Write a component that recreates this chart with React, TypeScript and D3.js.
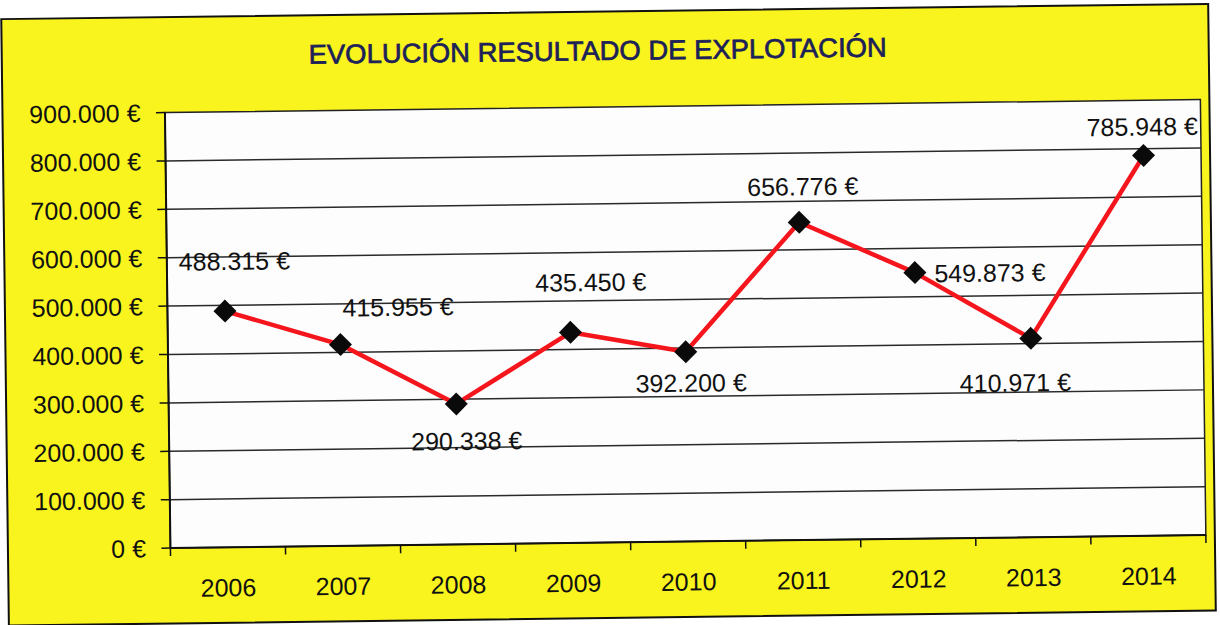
import React from "react";
import * as d3 from "d3";

// values
const years = ["2006", "2007", "2008", "2009", "2010", "2011", "2012", "2013", "2014"];
const resultado = [488315, 415955, 290338, 435450, 392200, 656776, 549873, 410971, 785948];
const yTicks = [0, 100000, 200000, 300000, 400000, 500000, 600000, 700000, 800000, 900000];

// where each data label sits relative to its marker (manual placement in the original)
const labelOffsets: [number, number][] = [
  [10, -50], [58, -37], [10, 37], [21, -50], [5, 31],
  [4, -36], [75, 1], [-16, 44], [-1, -29],
];

const W = 1220, H = 625;
const margin = { left: 167.5, right: 1203, top: 107, bottom: 542.5 };
const font = "'Liberation Sans', Arial, sans-serif";

const esLocale = d3.formatLocale({ decimal: ",", thousands: ".", grouping: [3], currency: ["", " €"] });
const fmt = esLocale.format(",.0f");
const euro = (v: number) => `${fmt(v)} €`;

export default function App() {
  const x = d3.scaleBand().domain(years).range([margin.left, margin.right]).padding(0);
  const y = d3.scaleLinear().domain([0, 900000]).range([margin.bottom, margin.top]);
  const cx = (i: number) => (x(years[i]) as number) + x.bandwidth() / 2;

  const line = d3.line<number>()
    .x((d, i) => cx(i))
    .y(d => y(d));

  const boundaries = years.map(yr => x(yr) as number).concat([margin.right]);

  return (
    <div style={{ position: "absolute", left: 0, top: 0 }}>
      <svg width={W} height={H} style={{ display: "block", background: "#ffffff" }}>
        <g transform="rotate(-0.72, 610, 312)">
          {/* outer chart area */}
          <rect x={5} y={11.5} width={1207} height={606.5} fill="#faf41e" stroke="#111" strokeWidth={2} />

          <text x={601} y={60} textAnchor="middle" fontFamily={font} fontSize={27}
            fill="#1c2158" stroke="#1c2158" strokeWidth={0.7} textLength={578} lengthAdjust="spacingAndGlyphs">
            EVOLUCIÓN RESULTADO DE EXPLOTACIÓN
          </text>

          {/* plot area */}
          <rect x={margin.left} y={margin.top} width={margin.right - margin.left}
            height={margin.bottom - margin.top} fill="#fdfdfd" stroke="#222" strokeWidth={1.5} />

          {yTicks.filter(t => t > 0 && t < 900000).map(t => (
            <line key={"g" + t} x1={margin.left} x2={margin.right} y1={y(t)} y2={y(t)}
              stroke="#2a2a2a" strokeWidth={1.5} />
          ))}

          {/* y axis */}
          <line x1={margin.left} x2={margin.left} y1={margin.top} y2={margin.bottom} stroke="#111" strokeWidth={2} />
          {yTicks.map(t => (
            <g key={"y" + t}>
              <line x1={margin.left - 9} x2={margin.left} y1={y(t)} y2={y(t)} stroke="#111" strokeWidth={1.5} />
              <text x={143} y={y(t)} dy="0.36em" textAnchor="end" fontFamily={font} fontSize={25} fill="#111">
                {euro(t)}
              </text>
            </g>
          ))}

          {/* x axis */}
          <line x1={margin.left} x2={margin.right} y1={margin.bottom} y2={margin.bottom} stroke="#111" strokeWidth={2} />
          {boundaries.map((bx, i) => (
            <line key={"xt" + i} x1={bx} x2={bx} y1={margin.bottom} y2={margin.bottom + 8} stroke="#111" strokeWidth={1.5} />
          ))}
          {years.map((yr, i) => (
            <text key={"xl" + yr} x={cx(i)} y={margin.bottom + 49} textAnchor="middle"
              fontFamily={font} fontSize={25} fill="#111">
              {yr}
            </text>
          ))}

          {/* series */}
          <path d={line(resultado) || ""} fill="none" stroke="#f4161c" strokeWidth={4.5} strokeLinejoin="round" />
          {resultado.map((v, i) => {
            const px = cx(i), py = y(v), s = 11.5;
            return (
              <path key={"m" + i} d={`M${px},${py - s}L${px + s},${py}L${px},${py + s}L${px - s},${py}Z`} fill="#0a0a0a" />
            );
          })}
          {resultado.map((v, i) => (
            <text key={"dl" + i} x={cx(i) + labelOffsets[i][0]} y={y(v) + labelOffsets[i][1]} dy="0.36em"
              textAnchor="middle" fontFamily={font} fontSize={25} fill="#111">
              {euro(v)}
            </text>
          ))}
        </g>
      </svg>
    </div>
  );
}
